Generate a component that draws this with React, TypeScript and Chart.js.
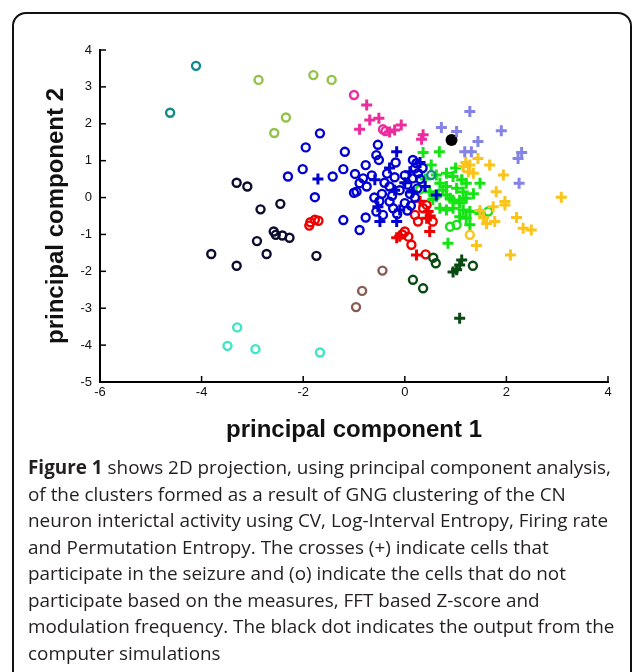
import React, { useEffect, useRef } from "react";
import { Chart, registerables } from "chart.js";

Chart.register(...registerables);

type Pt = [number, number];

const xTickValues = [-6, -4, -2, 0, 2, 4];
const yTickValues = [-5, -4, -3, -2, -1, 0, 1, 2, 3, 4];

const tealCircles: Pt[] = [[-4.62, 2.3], [-4.11, 3.57], [0.52, 0.61]];
const yellowGreenCircles: Pt[] = [[-2.88, 3.19], [-2.34, 2.17], [-2.57, 1.75], [-1.8, 3.32], [-1.44, 3.19]];
const darkNavyCircles: Pt[] = [
  [-3.31, 0.4], [-3.1, 0.3], [-2.45, -0.17], [-2.84, -0.32], [-2.58, -0.92], [-2.54, -1.01],
  [-2.41, -1.03], [-2.27, -1.09], [-2.91, -1.18], [-2.72, -1.53], [-3.81, -1.53], [-3.31, -1.85], [-1.74, -1.58],
];
const turquoiseCircles: Pt[] = [[-3.3, -3.52], [-3.49, -4.02], [-2.94, -4.11], [-1.67, -4.2]];
const brownCircles: Pt[] = [[-0.44, -1.98], [-0.84, -2.53], [-0.96, -2.97]];
const darkGreenCircles: Pt[] = [[0.16, -2.23], [0.36, -2.46], [0.56, -1.63], [0.61, -1.78], [1.34, -1.85]];
const darkGreenCrosses: Pt[] = [[1.12, -1.69], [1.08, -1.83], [0.95, -2.02], [1.02, -1.96], [1.08, -3.27]];
const redCircles: Pt[] = [
  [-1.86, -0.67], [-1.77, -0.6], [-1.7, -0.63], [-1.88, -0.76], [0.0, -0.92], [0.07, -1.06], [0.13, -1.28],
  [0.41, -1.54], [0.2, -0.47], [0.26, -0.65], [0.43, -0.2], [0.55, -0.65], [0.36, -0.29], [-0.05, -1.0],
];
const redCrosses: Pt[] = [
  [-0.16, -1.09], [-0.1, -1.05], [0.23, -1.56], [0.46, -0.38], [0.49, -0.92], [0.43, -0.56], [0.3, -0.1], [0.5, -0.5],
];
const magentaCircles: Pt[] = [[-1.0, 2.78], [-0.43, 1.85], [-0.38, 1.8]];
const magentaCrosses: Pt[] = [
  [-0.75, 2.51], [-0.69, 2.1], [-0.51, 2.15], [-0.89, 1.85], [-0.2, 1.83], [-0.07, 1.97], [0.36, 1.7], [0.33, 1.58], [-0.3, 1.78],
];
const lavenderCrosses: Pt[] = [
  [1.28, 2.33], [0.72, 1.9], [1.02, 1.79], [1.44, 1.52], [1.9, 1.81], [1.18, 1.24], [1.31, 1.24], [2.3, 1.22], [2.23, 1.06], [2.25, 0.39],
];
const goldCrosses: Pt[] = [
  [1.44, 1.06], [1.15, 0.84], [1.28, 0.88], [1.25, 0.7], [1.35, 0.66], [1.2, 0.95], [1.67, 0.88], [1.94, 0.61],
  [1.8, 0.16], [1.97, -0.11], [3.08, 0.01], [1.74, -0.25], [1.97, -0.2], [1.61, -0.7], [1.77, -0.65], [2.2, -0.54],
  [2.33, -0.83], [2.49, -0.88], [1.41, -1.3], [2.08, -1.56], [1.55, -0.55], [1.48, -0.35],
];
const goldCircles: Pt[] = [[1.28, -1.01]];
const greenCircles: Pt[] = [[0.89, -0.79], [1.02, -0.74], [1.64, -0.38], [0.3, 0.22], [0.6, 0.05]];
const greenCrosses: Pt[] = [
  [0.36, 1.22], [0.68, 1.24], [0.52, 0.88], [0.62, 0.61], [0.82, 0.66], [0.95, 0.57], [1.12, 0.48], [1.21, 0.39],
  [0.69, 0.39], [0.82, 0.3], [1.02, 0.25], [0.49, 0.16], [0.62, 0.02], [0.82, 0.07], [0.95, -0.07], [1.08, -0.15],
  [1.21, -0.02], [1.48, 0.39], [0.89, -0.02], [1.08, -0.07], [0.69, -0.29], [0.82, -0.34], [0.95, -0.29], [1.15, -0.34],
  [1.28, -0.38], [1.48, -0.43], [1.08, -0.52], [1.21, -0.56], [1.28, -0.74], [0.85, -1.24], [0.4, 0.5], [1.0, 0.8],
  [1.35, 0.1], [0.75, 0.2], [1.15, 0.15], [0.55, -0.05],
];
const blueCircles: Pt[] = [
  [-1.67, 1.74], [-1.95, 1.36], [-1.18, 1.24], [-0.53, 1.43], [-0.56, 1.15], [-0.51, 1.02], [-2.01, 0.77], [-2.3, 0.57],
  [-1.42, 0.57], [-1.21, 0.77], [-0.98, 0.64], [-0.89, 0.39], [-0.82, 0.52], [-0.75, 0.3], [-0.95, 0.16], [-0.77, 0.88],
  [-1.0, 0.13], [-1.77, 0.01], [-0.18, 0.95], [0.16, 1.02], [0.23, 0.93], [0.2, 0.79], [0.26, 0.66], [0.16, 0.52],
  [-1.21, -0.61], [-0.77, -0.54], [-0.89, -0.88], [-0.56, -0.38], [-0.43, -0.47], [-0.23, -0.29], [-0.3, -0.11],
  [0.0, -0.15], [-0.4, 0.4], [-0.3, 0.3], [-0.2, 0.55], [-0.1, 0.2], [0.05, 0.35], [-0.45, 0.1], [-0.25, 0.05],
  [0.1, 0.1], [0.25, 0.25], [0.3, 0.5], [-0.6, 0.0], [-0.15, -0.45], [0.05, -0.35], [0.2, 0.0], [-0.35, 0.65],
  [0.35, 0.8], [0.0, 0.6], [-0.5, -0.1], [-0.65, 0.6], [0.12, -0.22],
];
const blueCrosses: Pt[] = [
  [-1.71, 0.5], [-0.59, 0.48], [-0.16, 1.24], [-0.53, -0.25], [-0.49, -0.65], [-0.16, -0.65], [-0.1, -0.34],
  [0.0, 0.4], [0.1, 0.7], [-0.2, 0.2], [0.15, 0.15], [0.62, 0.07], [0.3, 0.95], [-0.3, 0.8], [0.4, 0.3],
];
const simulationDot: Pt[] = [[0.92, 1.56]];

const captionLines = [
  "of the clusters formed as a result of GNG clustering of the CN",
  "neuron interictal activity using CV, Log-Interval Entropy, Firing rate",
  "and Permutation Entropy. The crosses (+) indicate cells that",
  "participate in the seizure and (o) indicate the cells that do not",
  "participate based on the measures, FFT based Z-score and",
  "modulation frequency. The black dot indicates the output from the",
  "computer simulations",
];

const toData = (pts: Pt[]) => pts.map(([x, y]) => ({ x, y }));

const circle = (pts: Pt[], color: string) => ({
  data: toData(pts),
  pointStyle: "circle",
  pointRadius: 4,
  pointBorderWidth: 2.4,
  pointBorderColor: color,
  pointBackgroundColor: "rgba(0,0,0,0)",
  showLine: false,
});
const cross = (pts: Pt[], color: string) => ({
  data: toData(pts),
  pointStyle: "cross",
  pointRadius: 5.5,
  pointBorderWidth: 3,
  pointBorderColor: color,
  pointBackgroundColor: color,
  showLine: false,
});

const inwardTicks = {
  id: "inwardTicks",
  afterDraw(chart: any) {
    const { ctx, chartArea } = chart;
    const xs = chart.scales.x;
    const ys = chart.scales.y;
    ctx.save();
    ctx.strokeStyle = "#000";
    ctx.lineWidth = 1.5;
    xs.ticks.forEach((t: any) => {
      const px = xs.getPixelForValue(t.value);
      ctx.beginPath();
      ctx.moveTo(px, chartArea.bottom);
      ctx.lineTo(px, chartArea.bottom - 6);
      ctx.stroke();
    });
    ys.ticks.forEach((t: any) => {
      const py = ys.getPixelForValue(t.value);
      ctx.beginPath();
      ctx.moveTo(chartArea.left, py);
      ctx.lineTo(chartArea.left + 6, py);
      ctx.stroke();
    });
    ctx.restore();
  },
};

const axisFont = "'Liberation Sans', Arial, sans-serif";

export default function App() {
  const ref = useRef<HTMLCanvasElement>(null);
  useEffect(() => {
    if (!ref.current) return;
    const chart = new Chart(ref.current, {
      type: "scatter",
      data: {
        datasets: [
          circle(tealCircles, "#118a8a"),
          circle(yellowGreenCircles, "#92c24a"),
          circle(darkNavyCircles, "#0c0c2e"),
          circle(turquoiseCircles, "#3ee6c6"),
          circle(brownCircles, "#8a5a52"),
          circle(darkGreenCircles, "#0a4a12"),
          cross(darkGreenCrosses, "#0a4a12"),
          circle(blueCircles, "#0000d0"),
          cross(blueCrosses, "#0000d0"),
          circle(magentaCircles, "#ec2c9c"),
          cross(magentaCrosses, "#ec2c9c"),
          cross(lavenderCrosses, "#8484e6"),
          cross(goldCrosses, "#fac41c"),
          circle(goldCircles, "#fac41c"),
          circle(greenCircles, "#14e414"),
          cross(greenCrosses, "#14e414"),
          circle(redCircles, "#ee0000"),
          cross(redCrosses, "#ee0000"),
          {
            data: toData(simulationDot),
            pointStyle: "circle",
            pointRadius: 6,
            pointBorderWidth: 0,
            pointBackgroundColor: "#000",
            showLine: false,
          },
        ] as any,
      },
      options: {
        animation: false,
        responsive: false,
        devicePixelRatio: 1,
        events: [],
        layout: { padding: { left: 30, right: 25, top: 50, bottom: 0 } },
        plugins: { legend: { display: false }, tooltip: { enabled: false } },
        scales: {
          x: {
            type: "linear",
            min: -6,
            max: 4,
            afterBuildTicks: (s: any) => {
              s.ticks = xTickValues.map((v) => ({ value: v }));
            },
            afterFit: (s: any) => {
              s.height = 78;
            },
            grid: { display: true, drawOnChartArea: false, drawTicks: false },
            border: { display: true, color: "#000", width: 2 },
            ticks: {
              autoSkip: false,
              padding: 3,
              color: "#111",
              font: { family: axisFont, size: 13 },
            },
            title: {
              display: true,
              text: "principal component 1",
              color: "#111",
              padding: { top: 0, bottom: 15 },
              font: { family: axisFont, size: 24, weight: "bold" },
            },
          },
          y: {
            type: "linear",
            min: -5,
            max: 4,
            afterBuildTicks: (s: any) => {
              s.ticks = yTickValues.map((v) => ({ value: v }));
            },
            afterFit: (s: any) => {
              s.width = 70;
            },
            grid: { display: true, drawOnChartArea: false, drawTicks: false },
            border: { display: true, color: "#000", width: 2 },
            ticks: {
              autoSkip: false,
              padding: 8,
              color: "#111",
              font: { family: axisFont, size: 13 },
            },
            title: {
              display: true,
              text: "principal component 2",
              color: "#111",
              padding: { top: 12, bottom: 0 },
              font: { family: axisFont, size: 24, weight: "bold" },
            },
          },
        },
      },
      plugins: [inwardTicks],
    });
    return () => chart.destroy();
  }, []);

  return (
    <div
      style={{
        position: "fixed",
        left: 0,
        top: 0,
        width: 633,
        height: 672,
        overflow: "hidden",
        background: "#fff",
      }}
    >
      <div
        style={{
          position: "absolute",
          left: 12,
          top: 12,
          width: 620,
          height: 720,
          boxSizing: "border-box",
          border: "2px solid #111",
          borderRadius: 14,
        }}
      />
      <canvas
        ref={ref}
        width={633}
        height={460}
        style={{ position: "absolute", left: 0, top: 0, width: 633, height: 460 }}
      />
      <div
        style={{
          position: "absolute",
          left: 28,
          top: 454,
          fontFamily: "'Open Sans', sans-serif",
          fontSize: 18.9,
          lineHeight: "26.5px",
          color: "#231f20",
          whiteSpace: "nowrap",
        }}
      >
        <span style={{ fontWeight: "bold" }}>Figure 1</span> shows 2D projection, using principal component analysis,
        {captionLines.map((l, i) => (
          <React.Fragment key={i}>
            <br />
            {l}
          </React.Fragment>
        ))}
      </div>
    </div>
  );
}
